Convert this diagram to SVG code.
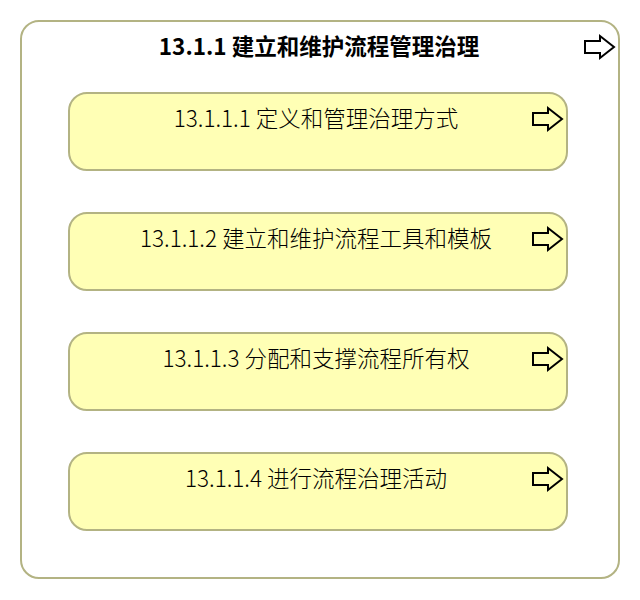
<svg xmlns="http://www.w3.org/2000/svg" width="640" height="600" viewBox="0 0 640 600">
<defs>
<style>
.outer{fill:#ffffff;stroke:#b3b383;stroke-width:2}
.box{fill:#ffffb5;stroke:#b3b383;stroke-width:2}
.t{font-family:"Noto Sans CJK SC","Noto Sans",sans-serif;font-size:22.5px;font-weight:300;fill:#000;text-anchor:middle}
.tb{font-weight:bold;font-size:22.5px}
.ic{fill:#fff;stroke:#000;stroke-width:2;stroke-linejoin:miter}
.ici{fill:none;stroke:#000;stroke-width:2}
</style>
<path id="arr" d="M0,5 H15 V0 L29,11 L15,22 V17 H0 Z"/>
</defs>
<rect width="640" height="600" fill="#ffffff"/>
<g id="n13_1_1">
<rect class="outer" x="21" y="21" width="598" height="557" rx="18" ry="18"/>
<text class="t tb" x="319" y="55">13.1.1 建立和维护流程管理治理</text>
<use href="#arr" class="ic" x="585" y="36"/>
</g>
<g id="n13_1_1_1">
<rect class="box" x="69" y="93" width="498" height="77" rx="18" ry="18"/>
<text class="t" x="316" y="127">13.1.1.1 定义和管理治理方式</text>
<use href="#arr" class="ici" x="533" y="108"/>
</g>
<g id="n13_1_1_2">
<rect class="box" x="69" y="213" width="498" height="77" rx="18" ry="18"/>
<text class="t" x="316" y="247">13.1.1.2 建立和维护流程工具和模板</text>
<use href="#arr" class="ici" x="533" y="228"/>
</g>
<g id="n13_1_1_3">
<rect class="box" x="69" y="333" width="498" height="77" rx="18" ry="18"/>
<text class="t" x="316" y="367">13.1.1.3 分配和支撑流程所有权</text>
<use href="#arr" class="ici" x="533" y="348"/>
</g>
<g id="n13_1_1_4">
<rect class="box" x="69" y="453" width="498" height="77" rx="18" ry="18"/>
<text class="t" x="316" y="487">13.1.1.4 进行流程治理活动</text>
<use href="#arr" class="ici" x="533" y="468"/>
</g>
<g id="connectors"></g>
</svg>
